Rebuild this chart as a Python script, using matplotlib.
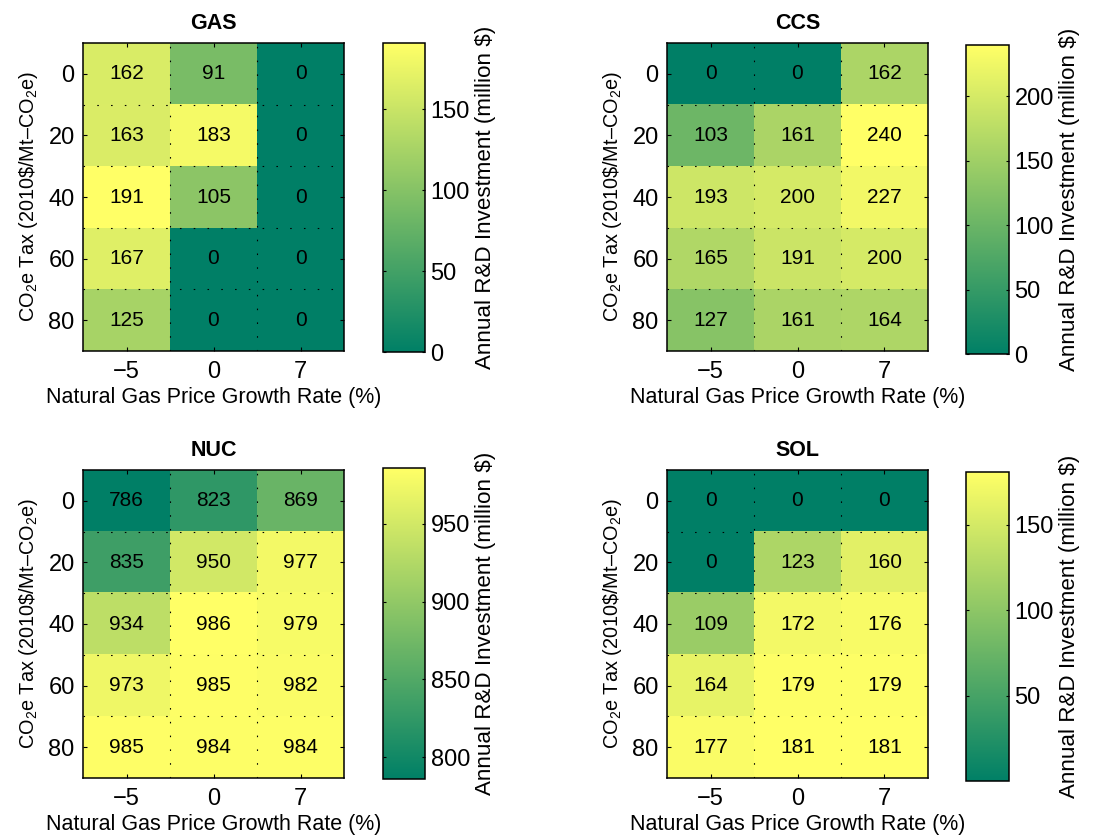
import matplotlib
matplotlib.use("Agg")
import matplotlib.pyplot as plt
import numpy as np

plt.rcParams['font.family'] = ['Liberation Sans', 'DejaVu Sans']
plt.rcParams['mathtext.fontset'] = 'custom'
plt.rcParams['mathtext.rm'] = 'Liberation Sans'
plt.rcParams['mathtext.it'] = 'Liberation Sans'
plt.rcParams['axes.unicode_minus'] = True

# scenario grid
gas_growth = ['\u22125', '0', '7']
co2_tax = ['0', '20', '40', '60', '80']

# annual R&D investment (million $), rows = CO2e tax, cols = gas price growth
gas = [[162, 91, 0],
       [163, 183, 0],
       [191, 105, 0],
       [167, 0, 0],
       [125, 0, 0]]
ccs = [[0, 0, 162],
       [103, 161, 240],
       [193, 200, 227],
       [165, 191, 200],
       [127, 161, 164]]
nuc = [[786, 823, 869],
       [835, 950, 977],
       [934, 986, 979],
       [973, 985, 982],
       [985, 984, 984]]
sol = [[0, 0, 0],
       [0, 123, 160],
       [109, 172, 176],
       [164, 179, 179],
       [177, 181, 181]]

panels = [
    ('GAS', gas, [0, 50, 100, 150]),
    ('CCS', ccs, [0, 50, 100, 150, 200]),
    ('NUC', nuc, [800, 850, 900, 950]),
    ('SOL', sol, [50, 100, 150]),
]

W, H = 1120, 838
# pixel boxes: (left, top, right, bottom) for heatmap and colorbar
boxes = [
    ((83, 43, 344, 351), (383, 43, 425, 352)),
    ((667, 43, 928, 351), (966, 45, 1009, 354)),
    ((83, 470, 344, 778), (383, 468, 425, 779)),
    ((667, 470, 928, 778), (966, 472, 1009, 781)),
]


def px_rect(b):
    l, t, r, bt = b
    return [l / W, 1 - bt / H, (r - l) / W, (bt - t) / H]


fig = plt.figure(figsize=(W / 100, H / 100), dpi=100)

for (name, vals, cticks), (abox, cbox) in zip(panels, boxes):
    data = np.array(vals, dtype=float)
    ax = fig.add_axes(px_rect(abox))
    cax = fig.add_axes(px_rect(cbox))

    im = ax.imshow(data, cmap='summer', aspect='auto',
                   vmin=data.min(), vmax=data.max())
    for i in range(data.shape[0]):
        for j in range(data.shape[1]):
            ax.text(j, i, f"{int(data[i, j])}", ha='center', va='center',
                    fontsize=15, color='black')

    ax.set_xticks(range(len(gas_growth)))
    ax.set_xticklabels(gas_growth)
    ax.set_yticks(range(len(co2_tax)))
    ax.set_yticklabels(co2_tax)
    ax.set_xticks([0.5, 1.5], minor=True)
    ax.set_yticks([0.5, 1.5, 2.5, 3.5], minor=True)
    ax.grid(which='minor', color='black', linestyle=(0, (1.4, 11)),
            linewidth=0.8)
    ax.tick_params(which='minor', length=0)
    ax.tick_params(which='major', direction='in', length=3, width=0.8,
                   top=True, right=True, labelsize=17)
    ax.tick_params(axis='x', pad=7)
    ax.tick_params(axis='y', pad=6)
    for s in ax.spines.values():
        s.set_linewidth(1.1)

    ax.set_title(name, fontsize=15.5, fontweight='bold', pad=10)
    ax.set_xlabel('Natural Gas Price Growth Rate (%)', fontsize=15.5,
                  labelpad=3)
    ax.set_ylabel('CO$_2$e Tax (2010\\$/Mt\u2013CO$_2$e)', fontsize=14.3,
                  labelpad=6)

    cb = fig.colorbar(im, cax=cax, ticks=cticks)
    cb.outline.set_linewidth(1.1)
    cax.tick_params(direction='in', length=2, width=0.8, labelsize=17,
                    left=True, right=True, pad=4)
    cb.set_label('Annual R&D Investment (million $)', fontsize=16.1,
                 labelpad=4)

fig.savefig('out.png', dpi=100)
